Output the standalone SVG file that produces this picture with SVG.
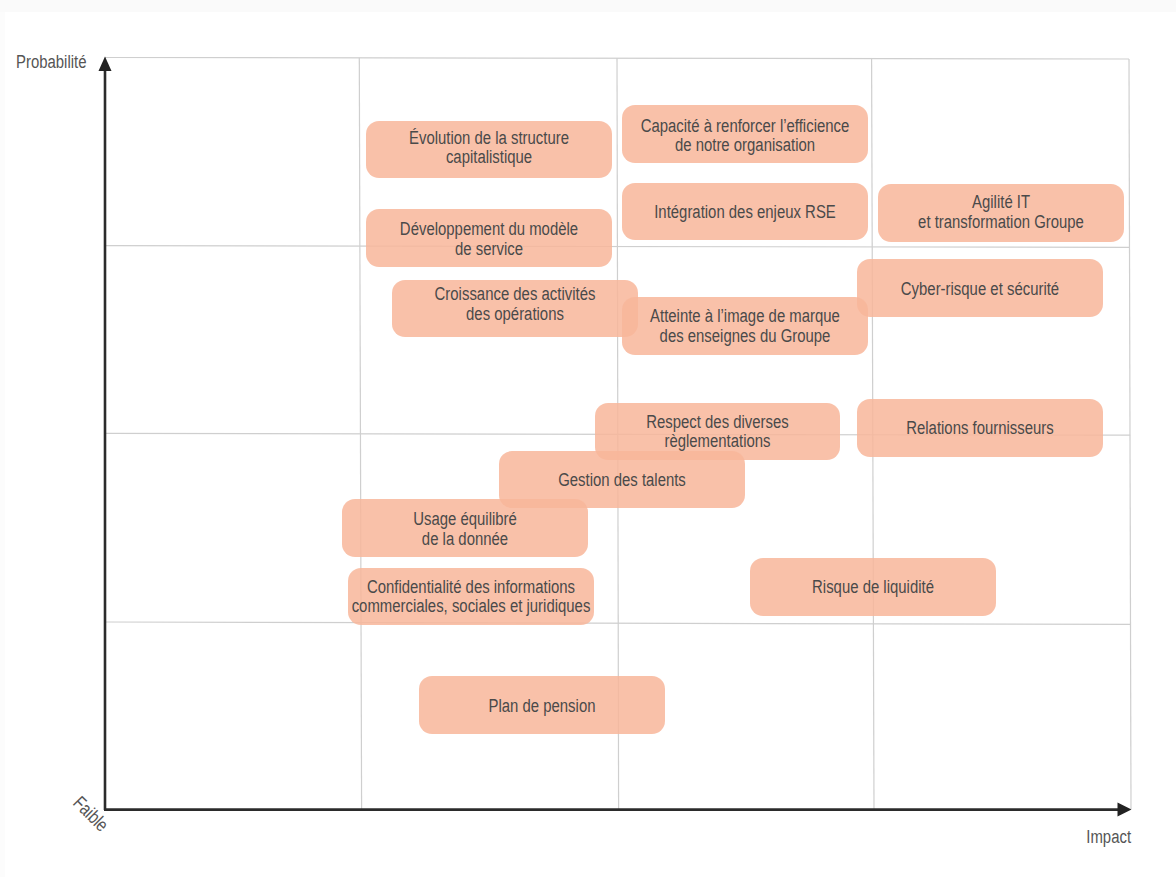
<svg xmlns="http://www.w3.org/2000/svg" width="1176" height="877" viewBox="0 0 1176 877">
<style>
  .grid{stroke:#cfcfcf;stroke-width:1.2;fill:none}
  .axis{stroke:#2b2b2b;stroke-width:2.6;fill:none}
  .box{fill:#F8B69A;fill-opacity:0.85}
  text{font-family:"Liberation Sans",Arial,sans-serif;font-size:19px;fill:#4a4a4a;text-anchor:middle}
  .n text{transform-box:fill-box;transform-origin:center;transform:scaleX(0.785)}
  .lbl{fill:#555;text-anchor:end;transform-box:fill-box;transform-origin:right center;transform:scaleX(0.785)}
</style>
<rect x="0" y="0" width="1176" height="877" fill="#ffffff"/>
<rect x="0" y="0" width="1176" height="12" fill="#fafafa"/>
<rect x="0" y="12" width="5" height="865" fill="#fcfcfc"/>

<g id="grid">
  <line class="grid" x1="105" y1="57.5" x2="1129" y2="59"/>
  <line class="grid" x1="1129" y1="59" x2="1131" y2="809"/>
  <line class="grid" x1="359.3" y1="57.8" x2="361.6" y2="809"/>
  <line class="grid" x1="617" y1="58.2" x2="618.6" y2="809"/>
  <line class="grid" x1="871.6" y1="58.6" x2="874" y2="809"/>
  <line class="grid" x1="105" y1="245.6" x2="1129.6" y2="247.4"/>
  <line class="grid" x1="105" y1="433.4" x2="1130.2" y2="435.2"/>
  <line class="grid" x1="105" y1="622" x2="1130.6" y2="624.4"/>
</g>

<g id="axes">
  <line class="axis" x1="105" y1="810" x2="105" y2="68"/>
  <polygon points="105,56.5 98.5,71 111.5,71" fill="#222"/>
  <line class="axis" x1="104" y1="809.6" x2="1119" y2="809.6"/>
  <polygon points="1131.5,809.6 1117.5,802.6 1117.5,816.6" fill="#222"/>
  <text class="lbl" x="86.5" y="68">Probabilité</text>
  <text class="lbl" x="1131" y="843.5">Impact</text>
  <text x="0" y="0" style="text-anchor:start;fill:#555" transform="translate(72,804) rotate(45) scale(0.785,1)">Faible</text>
</g>

<g id="connectors"></g>

<g class="n" id="n-evolution"><rect class="box" x="366" y="121" width="246" height="57" rx="13"/><text x="489" y="144.5">Évolution de la structure</text><text x="489" y="163.5">capitalistique</text></g>
<g class="n" id="n-capacite"><rect class="box" x="622" y="105" width="246" height="58" rx="13"/><text x="745" y="131.7">Capacité à renforcer l’efficience</text><text x="745" y="151">de notre organisation</text></g>
<g class="n" id="n-integration"><rect class="box" x="622" y="183" width="246" height="57" rx="13"/><text x="745" y="218.3">Intégration des enjeux RSE</text></g>
<g class="n" id="n-agilite"><rect class="box" x="878" y="184" width="246" height="58" rx="13"/><text x="1001" y="208.3">Agilité IT</text><text x="1001" y="228.3">et transformation Groupe</text></g>
<g class="n" id="n-developpement"><rect class="box" x="366" y="209" width="246" height="58" rx="13"/><text x="489" y="235">Développement du modèle</text><text x="489" y="255">de service</text></g>
<g class="n" id="n-cyber"><rect class="box" x="857" y="259" width="246" height="58" rx="13"/><text x="980" y="295">Cyber-risque et sécurité</text></g>
<g class="n" id="n-croissance"><rect class="box" x="392" y="280" width="246" height="57" rx="13"/><text x="515" y="300">Croissance des activités</text><text x="515" y="320">des opérations</text></g>
<g class="n" id="n-atteinte"><rect class="box" x="622" y="297" width="246" height="58" rx="13"/><text x="745" y="321.7">Atteinte à l’image de marque</text><text x="745" y="341.7">des enseignes du Groupe</text></g>
<g class="n" id="n-relations"><rect class="box" x="857" y="399" width="246" height="58" rx="13"/><text x="980" y="434">Relations fournisseurs</text></g>
<g class="n" id="n-respect"><rect class="box" x="595" y="403" width="245" height="57" rx="13"/><text x="717.5" y="427.7">Respect des diverses</text><text x="717.5" y="447.3">règlementations</text></g>
<g class="n" id="n-gestion"><rect class="box" x="499" y="451" width="246" height="57" rx="13"/><text x="622" y="485.7">Gestion des talents</text></g>
<g class="n" id="n-usage"><rect class="box" x="342" y="499" width="246" height="58" rx="13"/><text x="465" y="525">Usage équilibré</text><text x="465" y="545">de la donnée</text></g>
<g class="n" id="n-confidentialite"><rect class="box" x="348" y="568" width="246" height="57" rx="13"/><text x="471" y="592.7">Confidentialité des informations</text><text x="471" y="612.3">commerciales, sociales et juridiques</text></g>
<g class="n" id="n-liquidite"><rect class="box" x="750" y="558" width="246" height="58" rx="13"/><text x="873" y="592.7">Risque de liquidité</text></g>
<g class="n" id="n-pension"><rect class="box" x="419" y="676" width="246" height="58" rx="13"/><text x="542" y="711.7">Plan de pension</text></g>
</svg>
